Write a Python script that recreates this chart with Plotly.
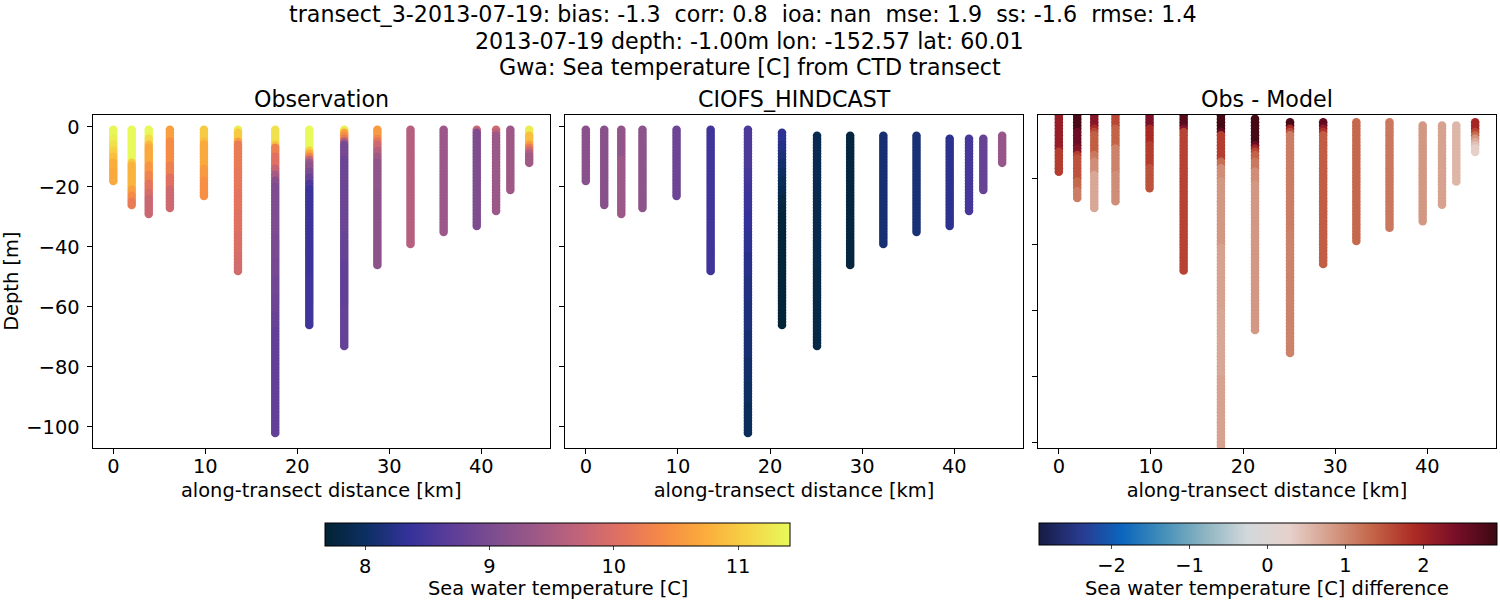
import plotly.graph_objects as go

# Along-transect distance of each CTD station [km]
station_km = [0, 2, 3.85, 6.15, 9.85, 13.55, 17.6, 21.3, 25.1, 28.7, 32.3, 35.9, 39.5, 41.6, 43.15, 45.2]

# Deepest bin at each station, and the first bin the model has there [m below surface]
bottom_m = [18, 26, 29, 27, 23, 48, 102, 66, 73, 46, 39, 35, 33, 28, 21, 12]
obs_top_m = [1] * 16
model_top_m = [1, 1, 1, 1, 1, 1, 1, 2, 3, 3, 3, 3, 4, 4, 4, 3]

# Temperatures per station, 1 m bins from the top down
obs_temp = [
    [11.38]*3 + [11.3]*2 + [11.18]*2 + [11.05]*2 + [10.9]*2 + [10.75]*3 + [10.7]*4,
    [11.42]*11 + [11.0] + [10.8]*8 + [10.6]*2 + [10.4]*2 + [10.2]*2,
    [11.4]*3 + [11.15]*2 + [10.85] + [10.7]*6 + [10.5]*3 + [10.3]*3 + [10.1]*3 + [9.95]*2 + [9.8]*6,
    [10.6]*4 + [10.4]*8 + [10.25]*4 + [10.05]*4 + [9.85]*7,
    [11.0]*4 + [10.85] + [10.7]*8 + [10.55]*4 + [10.45]*6,
    [11.3] + [11.0]*3 + [10.6] + [10.2]*9 + [10.15]*7 + [10.1]*7 + [10.05]*7 + [10.0]*7 + [9.95]*3 + [9.9]*3,
    [11.2]*5 + [10.95] + [10.25]*3 + [10.05]*4 + [9.75]*2 + [9.45]*2 + [9.15]*2 + [9.05]*17 + [9.0]*8 + [8.95]*6 + [8.9]*6 + [8.85]*6 + [8.8]*5 + [8.75]*35,
    [11.42]*7 + [11.05] + [10.7] + [10.3] + [9.75] + [9.35] + [9.2]*2 + [9.0]*2 + [8.8]*2 + [8.55]*2 + [8.42]*30 + [8.45]*16,
    [11.3] + [10.65] + [10.45] + [10.2] + [9.5] + [9.0] + [8.95]*4 + [8.85]*25 + [8.8]*10 + [8.75]*15 + [8.78]*13,
    [10.55]*3 + [10.35] + [10.1] + [9.85]*2 + [9.6]*2 + [9.4]*2 + [9.25]*10 + [9.2]*25,
    [9.6]*39,
    [9.35]*35,
    [9.75] + [9.05]*32,
    [9.85] + [9.65] + [9.35]*26,
    [9.38]*21,
    [11.3]*2 + [10.9]*3 + [10.6] + [10.2] + [9.85] + [9.55] + [9.4]*3,
]
model_temp = [
    [9.15]*18,
    [9.15]*26,
    [9.25]*10 + [9.35]*19,
    [9.2]*27,
    [8.85]*23,
    [8.45]*48,
    [8.55]*14 + [8.5]*4 + [8.45]*4 + [8.4]*6 + [8.35]*7 + [8.3]*7 + [8.25]*8 + [8.2]*8 + [8.15]*10 + [8.1]*9 + [8.05]*8 + [8.0]*7 + [7.95]*10,
    [8.3]*4 + [8.22]*3 + [8.15]*3 + [8.07]*3 + [8.0]*3 + [7.93]*3 + [7.87]*3 + [7.8]*3 + [7.76]*3 + [7.72]*37,
    [7.88]*20 + [7.85]*25 + [7.82]*26,
    [7.75]*44,
    [8.1]*37,
    [8.12]*33,
    [8.28]*30,
    [8.5]*25,
    [8.8]*18,
    [9.3]*10,
]
diff_temp = [
    [2.1]*11 + [1.7]*7,
    [2.8]*5 + [2.5]*5 + [2.3]*2 + [1.7] + [1.5]*7 + [1.3]*3 + [1.1]*3,
    [2.25]*4 + [1.9] + [1.6] + [1.4]*6 + [1.15]*2 + [0.95]*4 + [0.7]*11,
    [1.6]*4 + [1.35]*6 + [1.05]*8 + [0.95]*9,
    [2.35]*4 + [1.9]*5 + [1.7]*7 + [1.5]*7,
    [2.7]*4 + [2.3] + [1.65]*43,
    [2.85]*5 + [2.6] + [1.7]*8 + [1.25]*2 + [0.95]*4 + [0.85]*20 + [0.75]*20 + [0.7]*20 + [0.75]*22,
    [2.85]*8 + [2.5] + [2.0] + [1.6] + [1.35]*2 + [1.15]*3 + [0.95]*4 + [0.85]*45,
    [2.8]*2 + [1.9] + [1.55] + [1.1]*30 + [1.05]*37,
    [2.6]*2 + [2.15] + [1.8] + [1.4]*40,
    [1.3]*37,
    [1.15]*33,
    [0.85]*30,
    [0.75]*25,
    [0.55]*18,
    [1.95]*3 + [1.65] + [1.3] + [0.9] + [0.65] + [0.45] + [0.3]*2,
]

title_lines = [
    "transect_3-2013-07-19: bias: -1.3\u00a0\u00a0corr: 0.8\u00a0\u00a0ioa: nan\u00a0\u00a0mse: 1.9\u00a0\u00a0ss: -1.6\u00a0\u00a0rmse: 1.4\u00a0\u00a0",
    "2013-07-19 depth: -1.00m lon: -152.57 lat: 60.01",
    "Gwa: Sea temperature [C] from CTD transect",
]
panel_titles = ["Observation", "CIOFS_HINDCAST", "Obs - Model"]
temp_bar_label = "Sea water temperature [C]"
diff_bar_label = "Sea water temperature [C] difference"

W, H = 1500, 600
FONT = "DejaVu Sans"
TITLE_SIZE = 22.2
LABEL_SIZE = 19.4


def fx(px):
    return px / W


def fy(py):
    return 1 - py / H


def flatten(values, tops):
    # one long x / depth / value list per panel, shallow bins first so deeper ones draw on top
    xs, ys, cs = [], [], []
    for km, top, col in zip(station_km, tops, values):
        for i, v in enumerate(col):
            xs.append(km)
            ys.append(-(top + i))
            cs.append(v)
    return xs, ys, cs


for name, vals, tops in [("obs", obs_temp, obs_top_m), ("model", model_temp, model_top_m), ("diff", diff_temp, model_top_m)]:
    for i, col in enumerate(vals):
        assert len(col) == bottom_m[i] - tops[i] + 1, (name, i, len(col))

temp_bar = dict(
    orientation="h", x=fx(325), xanchor="left", len=465 / W, lenmode="fraction",
    y=fy(522.5), yanchor="top", thickness=23, xpad=0, ypad=0,
    outlinewidth=1, outlinecolor="black", ticks="outside", ticklen=4, tickwidth=1,
    tickvals=[8, 9, 10, 11], tickfont=dict(size=LABEL_SIZE, family=FONT, color="black"),
)
diff_bar = dict(
    orientation="h", x=fx(1038.5), xanchor="left", len=458 / W, lenmode="fraction",
    y=fy(522.5), yanchor="top", thickness=22, xpad=0, ypad=0,
    outlinewidth=1, outlinecolor="black", ticks="outside", ticklen=4, tickwidth=1,
    tickvals=[-2, -1, 0, 1, 2], tickfont=dict(size=LABEL_SIZE, family=FONT, color="black"),
)

fig = go.Figure()

panels = [
    (obs_temp, obs_top_m, "x", "y", "thermal", 7.676, 11.418, temp_bar),
    (model_temp, model_top_m, "x2", "y2", "thermal", 7.676, 11.418, None),
    (diff_temp, model_top_m, "x3", "y3", "balance", -2.937, 2.937, diff_bar),
]
for vals, tops, xa, ya, cmap, vmin, vmax, bar in panels:
    xs, ys, cs = flatten(vals, tops)
    marker = dict(size=8.6, color=cs, colorscale=cmap, cmin=vmin, cmax=vmax, line=dict(width=0))
    if bar:
        marker["colorbar"] = bar
    fig.add_trace(go.Scatter(x=xs, y=ys, mode="markers", marker=marker, xaxis=xa, yaxis=ya,
                             showlegend=False, hoverinfo="skip"))

y_domain = [fy(448), fy(114.5)]
x_domains = [(92.5, 550), (565, 1023), (1038, 1496)]
y_ranges = [(-107.0, 4.1), (-107.0, 4.1), (-101.82, -0.67)]
y_ticks = [[-100, -80, -60, -40, -20, 0], [-100, -80, -60, -40, -20, 0], [-100, -80, -60, -40, -20]]

axis_style = dict(showgrid=False, zeroline=False, showline=True, linecolor="black", linewidth=1,
                  mirror=True, ticks="outside", ticklen=5, tickwidth=1, tickcolor="black",
                  tickfont=dict(size=LABEL_SIZE, family=FONT, color="black"))
layout = {}
for i, (dom, yr, yt) in enumerate(zip(x_domains, y_ranges, y_ticks)):
    suffix = "" if i == 0 else str(i + 1)
    layout["xaxis" + suffix] = dict(
        axis_style, domain=[fx(dom[0]), fx(dom[1])], range=[-2.26, 47.46], anchor="y" + suffix,
        tickvals=[0, 10, 20, 30, 40], ticklabelstandoff=-4,
        title=dict(text="along-transect distance [km]", standoff=6,
                   font=dict(size=LABEL_SIZE, family=FONT, color="black")),
    )
    layout["yaxis" + suffix] = dict(
        axis_style, domain=y_domain, range=list(yr), anchor="x" + suffix,
        tickvals=yt, showticklabels=i == 0, ticklabelstandoff=3,
    )
layout["yaxis"]["title"] = dict(text="Depth [m]", standoff=12,
                                font=dict(size=LABEL_SIZE, family=FONT, color="black"))

annotations = []
for line, py in zip(title_lines, [14, 41, 67]):
    annotations.append(dict(text=line, x=fx(749.5), y=fy(py), xref="paper", yref="paper",
                            xanchor="center", yanchor="middle", showarrow=False,
                            font=dict(size=TITLE_SIZE, family=FONT, color="black")))
for title, dom in zip(panel_titles, x_domains):
    annotations.append(dict(text=title, x=fx((dom[0] + dom[1]) / 2), y=fy(99), xref="paper", yref="paper",
                            xanchor="center", yanchor="middle", showarrow=False,
                            font=dict(size=TITLE_SIZE, family=FONT, color="black")))
for label, cx in [(temp_bar_label, 557.5), (diff_bar_label, 1267)]:
    annotations.append(dict(text=label, x=fx(cx), y=fy(588), xref="paper", yref="paper",
                            xanchor="center", yanchor="middle", showarrow=False,
                            font=dict(size=LABEL_SIZE, family=FONT, color="black")))

fig.update_layout(
    width=W, height=H, margin=dict(l=0, r=0, t=0, b=0),
    paper_bgcolor="white", plot_bgcolor="white",
    font=dict(family=FONT, color="black"),
    annotations=annotations, **layout,
)

# drop the browser's default body margin so the title is not cut off at the top
fig.write_html("out.html", config={"displayModeBar": False}, post_script="document.body.style.margin = '0';")
